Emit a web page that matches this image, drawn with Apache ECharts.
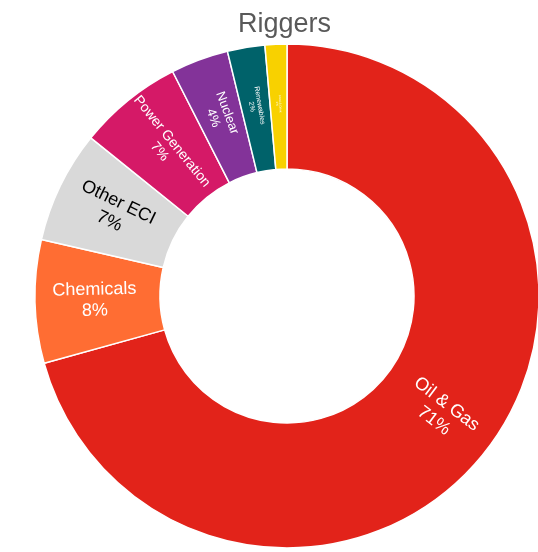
<!DOCTYPE html>
<html>
<head>
<meta charset="utf-8">
<script src="https://cdn.jsdelivr.net/npm/echarts@6/dist/echarts.min.js"></script>
<style>
html,body{margin:0;padding:0;background:#fff;}
#chart{width:538px;height:552px;}
</style>
</head>
<body>
<div id="chart"></div>
<script>
const categories = ['Oil & Gas', 'Chemicals', 'Other ECI', 'Power Generation', 'Nuclear', 'Renewables', 'Food & Drink'];
const values = [70.7, 7.9, 7.2, 6.7, 3.7, 2.4, 1.4];
const colors = ['#E2231A', '#FF6D33', '#D9D9D9', '#D51967', '#833399', '#00626A', '#F8D100'];
const labelColors = ['#ffffff', '#ffffff', '#000000', '#ffffff', '#ffffff', '#ffffff', '#ffffff'];
const labelSizes = [18, 18, 18, 14, 13, 7, 3];

const chart = echarts.init(document.getElementById('chart'), null, {renderer: 'canvas'});
chart.setOption({
  animation: false,
  title: {
    text: 'Riggers',
    left: 233,
    top: 6,
    textStyle: {
      fontFamily: 'Liberation Sans',
      fontSize: 27,
      fontWeight: 'normal',
      color: '#595959'
    }
  },
  series: [{
    type: 'pie',
    center: [287, 296],
    radius: [127, 252],
    startAngle: 90,
    clockwise: true,
    percentPrecision: 0,
    avoidLabelOverlap: false,
    itemStyle: {borderColor: '#ffffff', borderWidth: 1.5},
    label: {
      show: true,
      position: 'inside',
      rotate: 'radial',
      formatter: '{b}\n{d}%',
      fontFamily: 'Liberation Sans'
    },
    labelLine: {show: false},
    data: categories.map((c, i) => ({
      name: c,
      value: values[i],
      itemStyle: {color: colors[i]},
      label: {
        color: labelColors[i],
        fontSize: labelSizes[i],
        lineHeight: Math.round(labelSizes[i] * 1.15)
      }
    }))
  }]
});
</script>
</body>
</html>
